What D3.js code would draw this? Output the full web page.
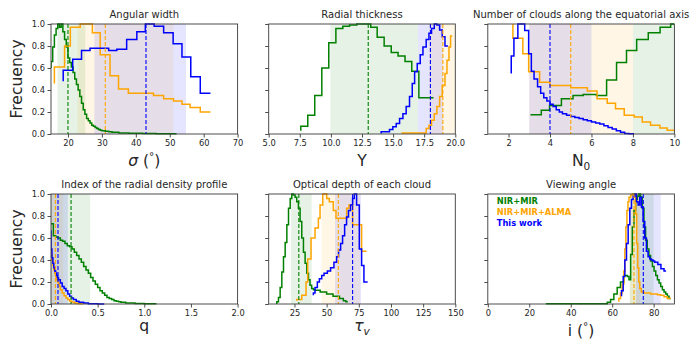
<!DOCTYPE html>
<html>
<head>
<meta charset="utf-8">
<script src="https://cdn.jsdelivr.net/npm/d3@7"></script>
<style>
  body { margin: 0; background: #fff; }
  svg { font-family: "DejaVu Sans", sans-serif; }
</style>
</head>
<body>
<svg id="chart" width="700" height="350"></svg>
<script>
// step curves, matplotlib 'pre' style: [x, y] = right end of each step and its height
// series order everywhere: NIR+MIR (green), NIR+MIR+ALMA (orange), This work (blue)

// --- angular width
var sigmaGreen = [[15,0.6],[15.5,0.66],[16,0.79],[16.5,0.9],[17,0.96],[17.5,1.0],[18,0.97],[18.5,1.0],[19,0.93],[19.5,0.86],[20,0.79],[20.5,0.69],[21,0.65],[21.5,0.61],[22,0.56],[22.5,0.5],[23,0.45],[23.5,0.4],[24,0.34],[24.5,0.28],[25,0.22],[25.5,0.18],[26,0.14],[26.5,0.12],[27,0.1],[27.5,0.08],[28,0.07],[28.5,0.06],[29,0.05],[29.5,0.04],[30,0.035],[31,0.03],[32,0.025],[33,0.02],[35,0.015],[38,0.01],[42,0.007],[46,0.005],[52,0.002]];
var sigmaOrange = [[16,0.46],[19,0.61],[20.7,0.80],[23.6,0.97],[27.2,1.0],[29.5,0.92],[32.4,0.72],[34.9,0.53],[37.8,0.41],[45.2,0.37],[48.2,0.35],[51.1,0.32],[53.6,0.30],[56,0.27],[59,0.24],[62,0.2]];
var sigmaBlue = [[18.6,0.48],[21.4,0.58],[24,0.68],[26.5,0.76],[32,0.78],[34.4,0.76],[37.3,0.77],[40.3,0.86],[42.8,0.93],[45.4,1.0],[48.2,0.98],[51,0.92],[53.6,0.82],[56.2,0.7],[59,0.52],[62,0.37]];
var sigmaBands = [[16.9,25.1],[22.8,51.1],[27.8,54.8]];
var sigmaMedians = [20, 31, 43];

// --- radial thickness
var thickGreen = [[7.58,0.03],[8.14,0.07],[8.7,0.17],[9.27,0.35],[9.83,0.6],[10.4,0.83],[10.96,0.96],[11.5,0.98],[12.08,0.99],[12.63,1.0],[13.2,1.0],[13.72,0.97],[14.28,0.88],[14.85,0.8],[15.4,0.74],[15.96,0.71],[16.5,0.66],[17.07,0.57],[17.65,0.33],[18.25,0.33]];
var thickOrange = [[15.73,0.0],[17.66,0.01],[17.88,0.05],[18.09,0.08],[18.31,0.125],[18.52,0.185],[18.74,0.25],[18.95,0.34],[19.17,0.44],[19.33,0.55],[19.49,0.67],[19.62,0.79],[19.76,0.89]];
var thickBlue = [[14.04,0.005],[14.71,0.02],[14.98,0.04],[15.25,0.065],[15.52,0.095],[15.79,0.14],[16.05,0.185],[16.32,0.25],[16.54,0.34],[16.73,0.46],[16.94,0.565],[17.18,0.64],[17.4,0.72],[17.66,0.79],[17.88,0.86],[18.09,0.915],[18.31,0.96],[18.52,1.0],[18.74,0.99],[18.95,0.945],[19.17,0.885],[19.41,0.8]];
var thickBands = [[9.96,17.0],[17.9,20.5],[17.0,19.0]];
var thickMedians = [13, 19, 18];

// --- number of clouds
var cloudsGreen = [[3.06,0.175],[3.58,0.175],[3.98,0.215],[4.55,0.26],[5.11,0.32],[5.6,0.35],[6.24,0.36],[6.73,0.35],[7.21,0.49],[7.69,0.65],[8.18,0.76],[8.74,0.86],[9.31,0.92],[9.82,0.97],[10.0,1.0]];
var cloudsOrange = [[2.21,1.0],[2.69,0.87],[2.97,0.73],[3.5,0.565],[4.0,0.47],[5.0,0.44],[5.8,0.42],[6.27,0.39],[6.76,0.32],[7.16,0.28],[7.58,0.23],[8.06,0.17],[8.45,0.155],[8.85,0.11],[9.3,0.08],[9.65,0.055],[10.0,0.035]];
var cloudsBlue = [[2.13,0.55],[2.26,0.71],[2.45,0.87],[2.6,1.0],[2.78,1.0],[2.97,0.94],[3.1,0.73],[3.23,0.57],[3.4,0.5],[3.55,0.43],[3.7,0.37],[3.85,0.33],[4.0,0.3],[4.15,0.27],[4.3,0.25],[4.45,0.22],[4.6,0.2],[4.8,0.185],[5.0,0.17],[5.2,0.16],[5.4,0.15],[5.6,0.14],[5.8,0.13],[6.0,0.12],[6.2,0.11],[6.4,0.1],[6.6,0.09],[6.8,0.075],[7.0,0.06],[7.2,0.045],[7.4,0.03],[7.6,0.015],[7.8,0.005],[8.05,0.003]];
var cloudsBands = [[8,10.5],[3,8],[3,6]];
var cloudsMedians = [null, 5, 4];

// --- radial density index
var qGreen = [[0,0.73],[0.025,0.73],[0.05,0.62],[0.075,0.61],[0.1,0.6],[0.125,0.58],[0.15,0.57],[0.175,0.55],[0.2,0.53],[0.225,0.52],[0.25,0.5],[0.275,0.47],[0.3,0.44],[0.325,0.41],[0.35,0.38],[0.375,0.34],[0.4,0.31],[0.425,0.28],[0.45,0.24],[0.475,0.21],[0.5,0.18],[0.525,0.15],[0.55,0.12],[0.575,0.1],[0.6,0.08],[0.625,0.06],[0.65,0.05],[0.675,0.04],[0.7,0.03],[0.725,0.025],[0.75,0.02],[0.8,0.015],[0.85,0.01],[0.9,0.008],[1.0,0.005],[1.13,0.002]];
var qOrange = [[0,0.5],[0.01,0.45],[0.02,0.4],[0.03,0.35],[0.04,0.31],[0.05,0.28],[0.06,0.25],[0.07,0.22],[0.08,0.2],[0.09,0.18],[0.1,0.16],[0.12,0.13],[0.14,0.1],[0.16,0.075],[0.18,0.055],[0.2,0.04],[0.22,0.028],[0.25,0.018],[0.28,0.01],[0.31,0.005],[0.34,0.002]];
var qBlue = [[0,0.67],[0.01,0.5],[0.02,0.42],[0.03,0.37],[0.04,0.33],[0.05,0.3],[0.06,0.28],[0.07,0.26],[0.08,0.24],[0.1,0.22],[0.12,0.19],[0.14,0.16],[0.16,0.14],[0.18,0.12],[0.2,0.09],[0.22,0.07],[0.24,0.055],[0.27,0.04],[0.3,0.025],[0.35,0.015],[0.4,0.008],[0.5,0.003],[0.57,0.001]];
var qBands = [[0,0.42],[0,0.13],[0,0.18]];
var qMedians = [0.215, 0.047, 0.075];

// --- optical depth
var tauGreen = [[11.3,0.0],[12.6,0.02],[13.9,0.06],[15.2,0.15],[16.5,0.29],[17.8,0.43],[19.1,0.56],[20.4,0.72],[21.7,0.87],[22.9,0.96],[24.2,1.0],[25.5,0.99],[26.8,0.97],[28.1,0.93],[29.4,0.87],[30.7,0.75],[32,0.6],[33.3,0.47],[34.6,0.37],[35.9,0.28],[37.1,0.22],[38.4,0.17],[39.7,0.14],[41,0.13],[45,0.125],[50,0.11],[55,0.09],[60,0.07],[63,0.05],[65,0.03],[66.5,0.02]];
var tauOrange = [[26.8,0.03],[30.7,0.04],[34,0.08],[35.3,0.2],[37.9,0.41],[41,0.6],[43.6,0.69],[44.9,0.78],[47,0.9],[50.1,1.0],[52.1,0.96],[55.2,0.93],[57.3,0.85],[65.6,0.78],[67.4,0.87],[70.2,0.9],[77.2,0.72],[81,0.48]];
var tauBlue = [[39.7,0.08],[41,0.1],[42.8,0.15],[44.4,0.2],[46.2,0.23],[48,0.26],[50.6,0.28],[53.1,0.3],[55.7,0.33],[57.8,0.38],[59.3,0.43],[60.9,0.49],[62.4,0.55],[64,0.62],[65.5,0.72],[67,0.79],[68.6,0.85],[70.2,0.9],[71.5,0.96],[73.3,1.0],[75.4,0.9],[77.2,0.5],[79,0.35],[81.9,0.2]];
var tauBands = [[22.4,38.4],[46.2,75.9],[56.5,76.7]];
var tauMedians = [28.4, 59.1, 70.2];

// --- viewing angle
var incGreen = [[28,0.003],[57.6,0.003],[59.2,0.015],[60.8,0.04],[62.4,0.09],[64,0.15],[65.6,0.2],[67.3,0.26],[68.1,0.25],[68.9,0.22],[69.7,0.45],[70.5,0.7],[71.3,0.85],[72.1,0.95],[72.9,0.98],[73.7,1.0],[74.5,0.97],[75.3,0.87],[76.1,0.7],[76.9,0.58],[77.7,0.5],[78.5,0.44],[79.4,0.39],[80.2,0.34],[81,0.3],[81.8,0.26],[82.6,0.22],[83.4,0.19],[84.2,0.16],[85,0.13],[85.8,0.11],[86.6,0.09],[87.4,0.07],[88.2,0.05]];
var incOrange = [[63.2,0.02],[64,0.05],[64.8,0.1],[65.6,0.18],[66.1,0.3],[66.6,0.5],[67.1,0.7],[67.6,0.85],[68.1,0.93],[68.9,0.97],[69.7,0.99],[70.5,1.0],[71.3,0.97],[71.8,0.82],[72.3,0.55],[72.8,0.33],[73.3,0.2],[74,0.14],[75.3,0.11],[77,0.1],[78.5,0.1],[80.2,0.09],[81.8,0.09],[83.4,0.085],[85,0.08],[86.6,0.065],[88.2,0.05]];
var incBlue = [[64.5,0.07],[65.3,0.12],[66.1,0.25],[66.9,0.4],[67.7,0.55],[68.5,0.72],[69.3,0.87],[70.1,0.95],[70.9,0.98],[71.7,1.0],[72.5,0.93],[73.3,0.9],[74.1,0.97],[74.9,0.88],[75.7,0.75],[76.5,0.6],[77.3,0.48],[78.1,0.43],[78.9,0.41],[79.7,0.4],[80.5,0.39],[82,0.38],[83.5,0.36],[85,0.32],[86,0.3]];
var incBands = [[68.5,80],[68.5,73.5],[71.5,83.4]];
var incMedians = [null, 70.5, 75];

var seriesNames = ['NIR+MIR', 'NIR+MIR+ALMA', 'This work'];
var colors = ['green', 'orange', 'blue'];
var yTicks = [0, 0.2, 0.4, 0.6, 0.8, 1.0];

// axis label pieces: [text, kind]
var panels = [
  {title: 'Angular width', col: 0, row: 0, domain: [15, 70], ticks: [20,30,40,50,60,70], fmt: 'd',
   label: [['σ','i'],[' ('],['°','sup'],[')']], labelY: 166,
   series: [sigmaGreen, sigmaOrange, sigmaBlue], bands: sigmaBands, medians: sigmaMedians},
  {title: 'Radial thickness', col: 1, row: 0, domain: [5, 20], ticks: [5,7.5,10,12.5,15,17.5,20], fmt: '.1f',
   label: [['Y']], labelY: 166,
   series: [thickGreen, thickOrange, thickBlue], bands: thickBands, medians: thickMedians},
  {title: 'Number of clouds along the equatorial axis', col: 2, row: 0, domain: [1, 10], ticks: [2,4,6,8,10], fmt: 'd',
   label: [['N'],['0','sub']], labelY: 166,
   series: [cloudsGreen, cloudsOrange, cloudsBlue], bands: cloudsBands, medians: cloudsMedians},
  {title: 'Index of the radial density profile', col: 0, row: 1, domain: [0, 2], ticks: [0,0.5,1,1.5,2], fmt: '.1f',
   label: [['q']], labelY: 331,
   series: [qGreen, qOrange, qBlue], bands: qBands, medians: qMedians},
  {title: 'Optical depth of each cloud', col: 1, row: 1, domain: [5, 150], ticks: [25,50,75,100,125,150], fmt: 'd',
   label: [['τ','i'],['v','isub']], labelY: 331,
   series: [tauGreen, tauOrange, tauBlue], bands: tauBands, medians: tauMedians},
  {title: 'Viewing angle', col: 2, row: 1, domain: [0, 90], ticks: [0,20,40,60,80], fmt: 'd',
   label: [['i'],[' ('],['°','sup'],[')']], labelY: 336,
   series: [incGreen, incOrange, incBlue], bands: incBands, medians: incMedians, legend: true}
];

var colX = [51, 268.7, 487.8];
var rowY = [24, 194];
var pw = 186.6, ph = 110;

var svg = d3.select('#chart');
var textColor = '#262626';
var spineColor = '#3a3a3a';

panels.forEach(function (p, k) {
  var x0 = colX[p.col], y0 = rowY[p.row];
  var x = d3.scaleLinear().domain(p.domain).range([0, pw]);
  var y = d3.scaleLinear().domain([0, 1]).range([ph, 0]);
  var g = svg.append('g').attr('transform', 'translate(' + x0 + ',' + y0 + ')');

  var clipId = 'clip' + k;
  g.append('clipPath').attr('id', clipId)
    .append('rect').attr('x', 0).attr('y', -1).attr('width', pw).attr('height', ph + 2);

  var plot = g.append('g').attr('clip-path', 'url(#' + clipId + ')');

  // shaded intervals
  p.bands.forEach(function (b, i) {
    plot.append('rect')
      .attr('x', x(b[0])).attr('y', 0)
      .attr('width', x(b[1]) - x(b[0])).attr('height', ph)
      .attr('fill', colors[i]).attr('fill-opacity', 0.1);
  });

  var line = d3.line().curve(d3.curveStepBefore)
    .x(function (d) { return x(d[0]); })
    .y(function (d) { return y(d[1]); });

  p.series.forEach(function (s, i) {
    plot.append('path').datum(s)
      .attr('d', line)
      .attr('fill', 'none')
      .attr('stroke', colors[i])
      .attr('stroke-width', 1.5);
  });

  p.medians.forEach(function (m, i) {
    if (m === null) return;
    plot.append('line')
      .attr('x1', x(m)).attr('x2', x(m))
      .attr('y1', 0).attr('y2', ph)
      .attr('stroke', colors[i]).attr('stroke-width', 1.1)
      .attr('stroke-dasharray', '4,2');
  });

  // axes
  var xAxis = d3.axisBottom(x).tickValues(p.ticks).tickSize(3.5).tickPadding(2.5)
    .tickFormat(d3.format(p.fmt));
  var gx = g.append('g').attr('transform', 'translate(0,' + ph + ')').call(xAxis);
  var yAxis = d3.axisLeft(y).tickValues(yTicks).tickSize(3.5).tickPadding(2.5)
    .tickFormat(p.col === 0 ? d3.format('.1f') : function () { return ''; });
  var gy = g.append('g').call(yAxis);
  [gx, gy].forEach(function (a) {
    a.select('.domain').remove();
    a.selectAll('line').attr('stroke', spineColor).attr('stroke-width', 0.9);
    a.selectAll('text').attr('fill', textColor).style('font-size', '8.3px')
      .style('font-family', '"DejaVu Sans", sans-serif');
  });
  if (p.col !== 0) gy.selectAll('text').remove();

  // frame
  g.append('rect').attr('width', pw).attr('height', ph)
    .attr('fill', 'none').attr('stroke', spineColor).attr('stroke-width', 0.9);

  // title
  g.append('text').attr('x', pw / 2).attr('y', -6)
    .attr('text-anchor', 'middle').attr('fill', textColor)
    .style('font-size', '10px').text(p.title);

  // x label
  var lab = svg.append('text').attr('x', x0 + pw / 2).attr('y', p.labelY)
    .attr('text-anchor', 'middle').attr('fill', textColor).style('font-size', '15.6px');
  var pending = 0;
  p.label.forEach(function (piece) {
    var t = lab.append('tspan').text(piece[0]);
    var dy = pending;
    pending = 0;
    if (piece[1] === 'i') t.style('font-style', 'italic');
    if (piece[1] === 'sup') {
      dy += -6;
      pending = 6;
      t.style('font-size', '10.5px');
    }
    if (piece[1] === 'sub' || piece[1] === 'isub') {
      dy += 3.5;
      pending = -3.5;
      t.style('font-size', '10.5px');
      if (piece[1] === 'isub') t.style('font-style', 'italic');
    }
    if (dy) t.attr('dy', dy);
  });

  // y label on the left column
  if (p.col === 0) {
    svg.append('text')
      .attr('transform', 'translate(22,' + (y0 + ph / 2) + ') rotate(-90)')
      .attr('text-anchor', 'middle').attr('fill', textColor)
      .style('font-size', '15.6px').text('Frecuency');
  }

  if (p.legend) {
    seriesNames.forEach(function (name, i) {
      g.append('text').attr('x', 9).attr('y', 9.5 + i * 11)
        .attr('fill', colors[i]).style('font-size', '8.3px').style('font-weight', 'bold')
        .text(name);
    });
  }
});
</script>
</body>
</html>
